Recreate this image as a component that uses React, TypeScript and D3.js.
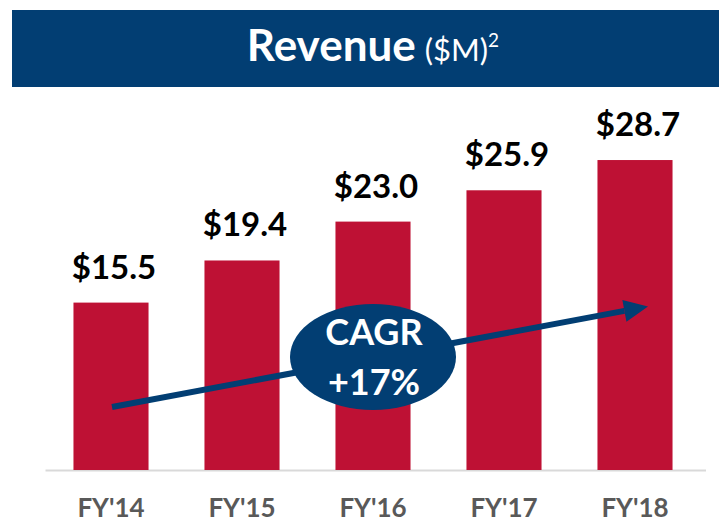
import React from "react";
import * as d3 from "d3";

const categories = ["FY'14", "FY'15", "FY'16", "FY'17", "FY'18"];
const revenue = [15.5, 19.4, 23.0, 25.9, 28.7];
const valueLabels = ["$15.5", "$19.4", "$23.0", "$25.9", "$28.7"];
const cagrLines = ["CAGR", "+17%"];

const W = 719;
const H = 524;
const RED = "#BE1134";
const NAVY = "#023E73";
const FONT = "Lato, 'Open Sans', sans-serif";

export default function App() {
  const x = d3
    .scaleBand<string>()
    .domain(categories)
    .range([45.5, 700.5])
    .paddingInner(0.427)
    .paddingOuter(0.2135);
  const y = d3.scaleLinear().domain([0, 35]).range([470, 92]);

  const bw = x.bandwidth();
  const cx = (c: string) => (x(c) as number) + bw / 2;

  // CAGR arrow from first bar to last bar
  const x0 = cx(categories[0]) + 1;
  const y0 = 407;
  const x1 = cx(categories[4]) + 13;
  const y1 = 306.5;
  const ang = Math.atan2(y1 - y0, x1 - x0);
  const headLen = 24;
  const headW = 11;
  const bx = x1 - headLen * Math.cos(ang);
  const by = y1 - headLen * Math.sin(ang);
  const px = -Math.sin(ang);
  const py = Math.cos(ang);
  const headPath = d3.path();
  headPath.moveTo(x1, y1);
  headPath.lineTo(bx + px * headW, by + py * headW);
  headPath.lineTo(bx - px * headW, by - py * headW);
  headPath.closePath();

  return (
    <svg width={W} height={H} style={{ position: "absolute", left: 0, top: 0 }}>
      <rect x={0} y={0} width={W} height={H} fill="#fff" />
      <rect x={12} y={10} width={W - 12} height={77} fill={NAVY} />
      <text x={373} y={61} textAnchor="middle" fill="#fff" fontFamily={FONT}>
        <tspan fontWeight={700} fontSize={44}>Revenue</tspan>
        <tspan fontSize={31} dx={9}>($M)</tspan>
        <tspan fontSize={19} dy={-14}>2</tspan>
      </text>

      <line x1={45.5} x2={706} y1={470.5} y2={470.5} stroke="#d9d9d9" strokeWidth={2} />

      {categories.map((c, i) => (
        <g key={c}>
          <rect x={x(c)} y={y(revenue[i])} width={bw} height={y(0) - y(revenue[i])} fill={RED} />
          <text
            x={cx(c) + 3}
            y={y(revenue[i]) - 24}
            textAnchor="middle"
            fontFamily={FONT}
            fontWeight={700}
            fontSize={33}
            fill="#000"
          >
            {valueLabels[i]}
          </text>
          <text
            x={cx(c)}
            y={517}
            textAnchor="middle"
            fontFamily={FONT}
            fontWeight={700}
            fontSize={26}
            fill="#595959"
          >
            {c}
          </text>
        </g>
      ))}

      <line x1={x0} y1={y0} x2={bx} y2={by} stroke={NAVY} strokeWidth={6} />
      <path d={headPath.toString()} fill={NAVY} />

      <ellipse cx={373} cy={357} rx={83} ry={53} fill={NAVY} />
      {cagrLines.map((t, i) => (
        <text
          key={t}
          x={374}
          y={345 + i * 50}
          textAnchor="middle"
          fontFamily={FONT}
          fontWeight={700}
          fontSize={36}
          fill="#fff"
        >
          {t}
        </text>
      ))}
    </svg>
  );
}
